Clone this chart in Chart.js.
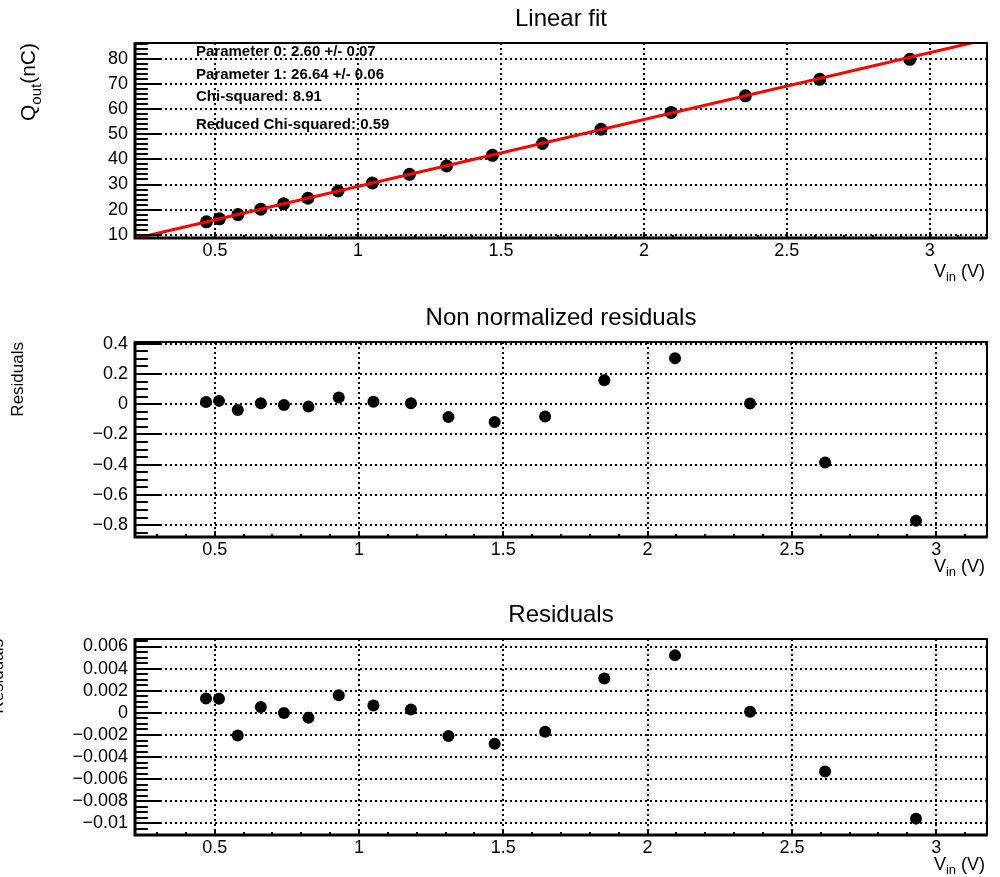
<!DOCTYPE html>
<html>
<head>
<meta charset="utf-8">
<script src="https://cdn.jsdelivr.net/npm/chart.js@4.4.1/dist/chart.umd.min.js"></script>
<style>
  html, body { margin: 0; padding: 0; background: #fff; }
  #wrap { position: relative; width: 1000px; height: 877px; overflow: hidden; }
  canvas { position: absolute; left: 0; }
</style>
</head>
<body>
<div id="wrap">
  <canvas id="fitChart" width="1000" height="290" style="top:0px"></canvas>
  <canvas id="resChart" width="1000" height="290" style="top:290px"></canvas>
  <canvas id="relChart" width="1000" height="297" style="top:580px"></canvas>
</div>
<script>
// values
const vIn = [0.47, 0.515, 0.58, 0.66, 0.74, 0.825, 0.93, 1.05, 1.18, 1.31, 1.47, 1.645, 1.85, 2.095, 2.355, 2.615, 2.93];
const qOut = [15.14, 16.34, 18.01, 20.19, 22.31, 24.56, 27.42, 30.59, 34.04, 37.41, 41.64, 46.34, 52.04, 58.72, 65.34, 71.88, 79.88];
const residuals = [0.015, 0.022, -0.038, 0.007, -0.005, -0.016, 0.044, 0.017, 0.007, -0.084, -0.117, -0.082, 0.159, 0.304, 0.004, -0.386, -0.771];
const relResiduals = [0.0013, 0.00128, -0.00205, 0.00054, 0.0, -0.00045, 0.0016, 0.00066, 0.0003, -0.0021, -0.0028, -0.0017, 0.0031, 0.0052, 0.0001, -0.0053, -0.00956];

// fitted line end points
const fitLineX = [0.22, 3.2];
const fitLineY = [8.46, 87.85];

const fitStats = [
  "Parameter 0: 2.60 +/- 0.07",
  "Parameter 1: 26.64 +/- 0.06",
  "Chi-squared: 8.91",
  "Reduced Chi-squared: 0.59",
];

const FONT = "'Liberation Sans', Arial, Helvetica, sans-serif";

const toPoints = (xs, ys) => xs.map((x, i) => ({ x: x, y: ys[i] }));

const fmtTick = (v) => String(+Number(v).toPrecision(6)).replace("-", "\u2212");

// ROOT style frame, inward ticks and texts
const rootStyle = {
  id: "rootStyle",
  beforeDraw(chart, args, opts) {
    if (!opts.stats) return;
    const ctx = chart.ctx;
    ctx.save();
    ctx.fillStyle = "#000";
    ctx.font = "bold 15px " + FONT;
    ctx.textBaseline = "alphabetic";
    opts.stats.lines.forEach((t, i) => {
      ctx.fillText(t, opts.stats.x, opts.stats.y[i]);
    });
    ctx.restore();
  },
  afterDraw(chart, args, opts) {
    const ctx = chart.ctx;
    const { left, right, top, bottom } = chart.chartArea;
    const xs = chart.scales.x;
    const ys = chart.scales.y;
    ctx.save();
    ctx.strokeStyle = "#000";
    ctx.lineWidth = 2;

    // y ticks
    const yMinor = opts.yMinor, yMajor = opts.yMajor;
    for (let i = Math.ceil(ys.min / yMinor); i * yMinor <= ys.max + 1e-12; i++) {
      const v = i * yMinor;
      const isMajor = Math.abs(v / yMajor - Math.round(v / yMajor)) < 1e-6;
      const py = Math.round(ys.getPixelForValue(v));
      ctx.beginPath();
      ctx.moveTo(left, py);
      ctx.lineTo(left + (isMajor ? 25.6 : 12.8), py);
      ctx.stroke();
    }
    // x ticks
    const xMinor = opts.xMinor, xMajor = opts.xMajor;
    for (let i = Math.ceil(xs.min / xMinor); i * xMinor <= xs.max + 1e-12; i++) {
      const v = i * xMinor;
      const isMajor = Math.abs(v / xMajor - Math.round(v / xMajor)) < 1e-6;
      const px = Math.round(xs.getPixelForValue(v));
      ctx.beginPath();
      ctx.moveTo(px, bottom);
      ctx.lineTo(px, bottom - (isMajor ? 6 : 3));
      ctx.stroke();
    }
    // frame (axes a bit heavier)
    ctx.strokeRect(left, top, right - left, bottom - top);
    ctx.lineWidth = 3;
    ctx.beginPath();
    ctx.moveTo(left, top);
    ctx.lineTo(left, bottom);
    ctx.lineTo(right, bottom);
    ctx.stroke();

    ctx.fillStyle = "#000";
    // panel title
    ctx.font = "24px " + FONT;
    ctx.textAlign = "center";
    ctx.textBaseline = "alphabetic";
    ctx.fillText(opts.title, (left + right) / 2, opts.titleY);

    // x title  V_in (V)
    ctx.textAlign = "left";
    ctx.font = "18px " + FONT;
    const wV = ctx.measureText("V").width;
    const wR = ctx.measureText(" (V)").width;
    ctx.font = "13px " + FONT;
    const wSub = ctx.measureText("in").width;
    let x0 = 985 - (wV + wSub + wR);
    ctx.font = "18px " + FONT;
    ctx.fillText("V", x0, opts.xTitleY);
    ctx.font = "13px " + FONT;
    ctx.fillText("in", x0 + wV, opts.xTitleY + 4);
    ctx.font = "18px " + FONT;
    ctx.fillText(" (V)", x0 + wV + wSub, opts.xTitleY);

    // y title, rotated, ending at the frame top
    ctx.translate(opts.yTitleX, top);
    ctx.rotate(-Math.PI / 2);
    const parts = opts.yTitle;
    let total = 0;
    parts.forEach((p) => {
      ctx.font = p.size + "px " + FONT;
      total += ctx.measureText(p.t).width;
    });
    let cx = -total;
    parts.forEach((p) => {
      ctx.font = p.size + "px " + FONT;
      ctx.fillText(p.t, cx, p.dy || 0);
      cx += ctx.measureText(p.t).width;
    });
    ctx.restore();
  },
};

function makePanel(id, cfg) {
  const canvas = document.getElementById(id);
  const H = canvas.height;
  return new Chart(canvas.getContext("2d"), {
    type: "scatter",
    data: { datasets: cfg.datasets },
    plugins: [rootStyle],
    options: {
      responsive: false,
      animation: false,
      events: [],
      layout: { padding: { left: 0, right: 13, top: cfg.top, bottom: 0 } },
      plugins: {
        legend: { display: false },
        tooltip: { enabled: false },
        title: { display: false },
        rootStyle: cfg.deco,
      },
      scales: {
        x: {
          type: "linear",
          min: cfg.xMin,
          max: cfg.xMax,
          afterFit: (s) => { s.height = H - cfg.bottom; },
          ticks: {
            stepSize: 0.5,
            includeBounds: false,
            autoSkip: false,
            color: "#000",
            padding: 2,
            maxRotation: 0,
            font: { family: FONT, size: 18 },
            callback: fmtTick,
          },
          grid: { color: "#000", lineWidth: 2, drawTicks: false },
          border: { display: false, dash: [2, 3] },
        },
        y: {
          type: "linear",
          min: cfg.yMin,
          max: cfg.yMax,
          afterFit: (s) => { s.width = 135; },
          ticks: {
            stepSize: cfg.yStep,
            includeBounds: false,
            autoSkip: false,
            color: "#000",
            padding: 7,
            font: { family: FONT, size: 18 },
            callback: fmtTick,
          },
          grid: { color: "#000", lineWidth: 2, drawTicks: false },
          border: { display: false, dash: [2, 3] },
        },
      },
    },
  });
}

const dots = (ys, r) => ({
  data: toPoints(vIn, ys),
  backgroundColor: "#000",
  borderWidth: 0,
  pointRadius: r,
  order: 1,
});

makePanel("fitChart", {
  top: 43, bottom: 238,
  xMin: 0.22, xMax: 3.2, yMin: 8.69, yMax: 86.37, yStep: 10,
  datasets: [
    dots(qOut, 6.5),
    {
      type: "line",
      data: toPoints(fitLineX, fitLineY),
      borderColor: "#ff0000",
      borderWidth: 3,
      pointRadius: 0,
      fill: false,
      clip: 0,
      order: 0,
    },
  ],
  deco: {
    title: "Linear fit", titleY: 26, xTitleY: 277,
    yTitle: [{ t: "Q", size: 21 }, { t: "out", size: 15, dy: 6 }, { t: "(nC)", size: 21 }],
    yTitleX: 35,
    xMinor: 0.1, xMajor: 0.5, yMinor: 2, yMajor: 10,
    stats: { lines: fitStats, x: 196, y: [56, 79, 101, 129] },
  },
});

makePanel("resChart", {
  top: 52, bottom: 247,
  xMin: 0.224, xMax: 3.176, yMin: -0.8785, yMax: 0.4115, yStep: 0.2,
  datasets: [dots(residuals, 6)],
  deco: {
    title: "Non normalized residuals", titleY: 35, xTitleY: 282,
    yTitle: [{ t: "Residuals", size: 17 }],
    yTitleX: 23,
    xMinor: 0.1, xMajor: 0.5, yMinor: 0.05, yMajor: 0.2,
  },
});

makePanel("relChart", {
  top: 59, bottom: 255,
  xMin: 0.224, xMax: 3.176, yMin: -0.01104, yMax: 0.00668, yStep: 0.002,
  datasets: [dots(relResiduals, 6)],
  deco: {
    title: "Residuals", titleY: 42, xTitleY: 290,
    yTitle: [{ t: "Residuals", size: 17 }],
    yTitleX: 3,
    xMinor: 0.1, xMajor: 0.5, yMinor: 0.0005, yMajor: 0.002,
  },
});
</script>
</body>
</html>
